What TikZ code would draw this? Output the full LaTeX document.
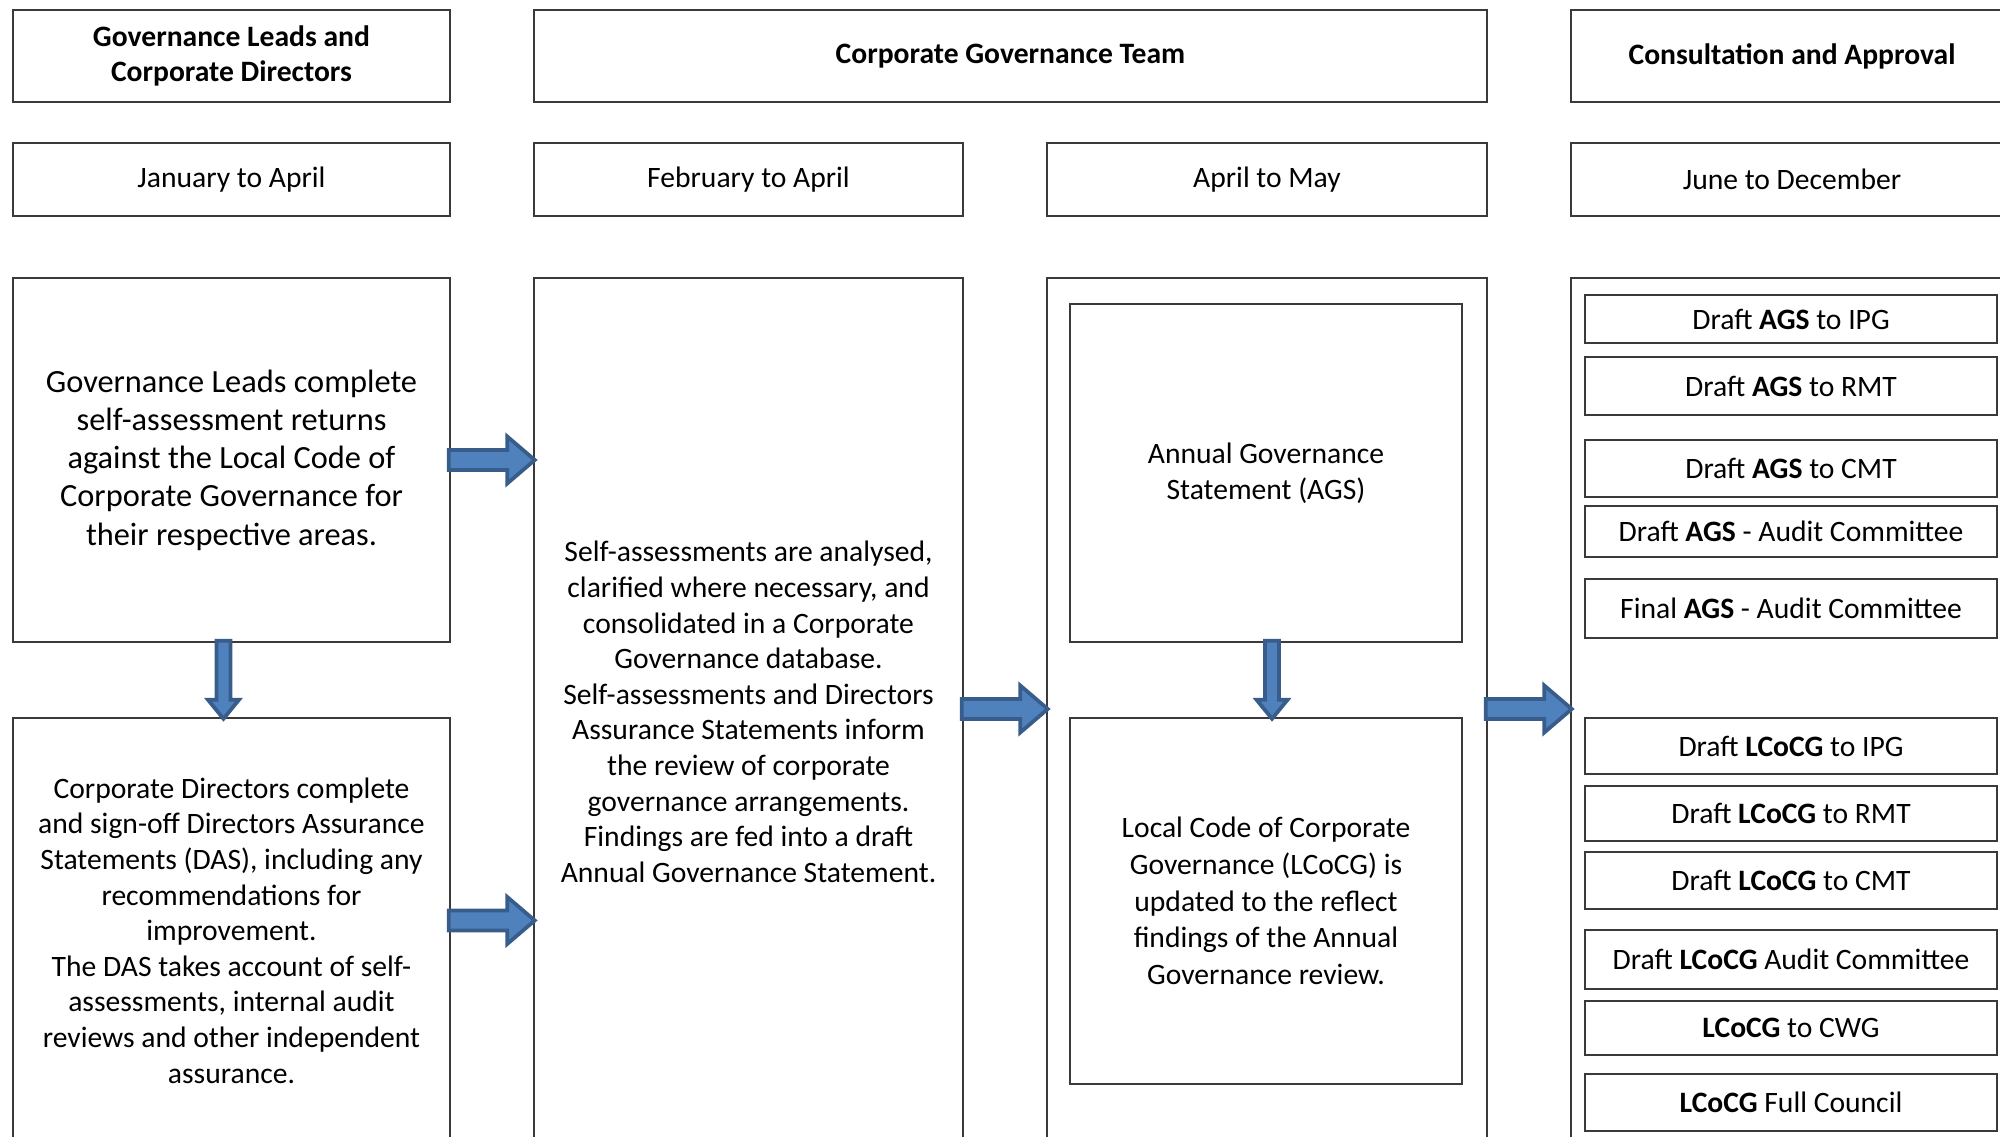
\documentclass[tikz,border=0pt]{standalone}
\usepackage{fontspec}
\setmainfont{Carlito}
\usetikzlibrary{calc}
\definecolor{arrowfill}{HTML}{4F81BD}
\definecolor{arrowline}{HTML}{385D8A}
\definecolor{boxline}{HTML}{3A3A3A}
\tikzset{
  every picture/.style={x=0.014cm, y=-0.014cm},
  box at/.style args={#1/#2/#3/#4}{at={({(#1+#3)/2},{(#2+#4)/2})},
    minimum width={(#3-#1)*0.014cm}, minimum height={(#4-#2)*0.014cm}},
  cell/.style={draw=boxline, line width=0.6pt, inner sep=0pt, align=center, font=\fontsize{11.8}{14.2}\selectfont},
  hdr/.style={cell, font=\fontsize{11.8}{14.2}\selectfont\bfseries},
  big/.style={cell, font=\fontsize{12.9}{15.25}\selectfont},
  blockarrow/.style={fill=arrowfill, draw=arrowline, line width=1.5pt, line join=miter},
}
% block arrows between two anchors
\newcommand\rightblock[2]{%
  \filldraw[blockarrow] let \p1=(#1), \p2=(#2) in
    (\x1-0.8pt,\y1+4pt) -- (\x2-10.4pt,\y1+4pt) -- (\x2-10.4pt,\y1+9.4pt)
    -- (\x2+0.6pt,\y1) -- (\x2-10.4pt,\y1-9.4pt) -- (\x2-10.4pt,\y1-4pt)
    -- (\x1-0.8pt,\y1-4pt) -- cycle;}
\newcommand\downblock[2]{%
  \filldraw[blockarrow] let \p1=(#1), \p2=(#2) in
    (\x1-2.8pt,\y1+0.8pt) -- (\x1-2.8pt,\y2+7pt) -- (\x1-6.2pt,\y2+7pt)
    -- (\x1,\y2-0.6pt) -- (\x1+6.2pt,\y2+7pt) -- (\x1+2.8pt,\y2+7pt)
    -- (\x1+2.8pt,\y1+0.8pt) -- cycle;}

\begin{document}
\begin{tikzpicture}
  \useasboundingbox (0,0) rectangle (2000,1137);
  % column headings
  \node[hdr, box at=13/10/450/102] (leadshdr) {Governance Leads and\\Corporate Directors};
  \node[hdr, box at=534/10/1487/102] (teamhdr) {Corporate Governance Team};
  \node[hdr, box at=1571/10/2013/102] (approvalhdr) {Consultation and Approval};
  % time frames
  \node[cell, box at=13/143/450/216] (jan) {January to April};
  \node[cell, box at=534/143/963/216] (feb) {February to April};
  \node[cell, box at=1047/143/1487/216] (apr) {April to May};
  \node[cell, box at=1571/143/2013/216] (jun) {June to December};
  % first column
  \node[big, box at=13/278/450/642] (leads) {Governance Leads complete\\self-assessment returns\\against the Local Code of\\Corporate Governance for\\their respective areas.};
  \node[cell, box at=13/718/450/1143] (das) {Corporate Directors complete\\and sign-off Directors Assurance\\Statements (DAS), including any\\recommendations for\\improvement.\\The DAS takes account of self-\\assessments, internal audit\\reviews and other independent\\assurance.};
  % second column
  \node[cell, box at=534/278/963/1146] (review) {Self-assessments are analysed,\\clarified where necessary, and\\consolidated in a Corporate\\Governance database.\\Self-assessments and Directors\\Assurance Statements inform\\the review of corporate\\governance arrangements.\\Findings are fed into a draft\\Annual Governance Statement.};
  % third column
  \node[cell, box at=1047/278/1487/1140] (stage) {};
  \node[cell, box at=1070/304/1462/642] (ags) {Annual Governance\\Statement (AGS)};
  \node[cell, box at=1070/718/1462/1084, font=\fontsize{11.8}{14.6}\selectfont] (lcocg) {Local Code of Corporate\\Governance (LCoCG) is\\updated to the reflect\\findings of the Annual\\Governance review.};
  % fourth column
  \node[cell, box at=1571/278/2013/1140] (approval) {};
  \foreach \n/\ya/\yb/\t in {1/295/343/{Draft \textbf{AGS} to IPG}, 2/357/415/{Draft \textbf{AGS} to RMT},
      3/440/497/{Draft \textbf{AGS} to CMT}, 4/506/557/{Draft \textbf{AGS} - Audit Committee},
      5/579/638/{Final \textbf{AGS} - Audit Committee}, 6/718/774/{Draft \textbf{LCoCG} to IPG},
      7/786/841/{Draft \textbf{LCoCG} to RMT}, 8/852/909/{Draft \textbf{LCoCG} to CMT},
      9/930/989/{Draft \textbf{LCoCG} Audit Committee}, 10/1001/1055/{\textbf{LCoCG} to CWG},
      11/1074/1131/{\textbf{LCoCG} Full Council}}
    \node[cell, box at=1585/\ya/1997/\yb] (step\n) {\t};
  % flow
  \downblock{[xshift=-3.2pt]leads.south}{das.north}
  \rightblock{leads.east}{leads.east -| review.west}
  \rightblock{[yshift=4pt]das.east}{[yshift=4pt]das.east -| review.west}
  \rightblock{review.east |- stage.west}{stage.west}
  \downblock{[xshift=2.4pt]ags.south}{lcocg.north}
  \rightblock{stage.east}{approval.west}
\end{tikzpicture}
\end{document}
